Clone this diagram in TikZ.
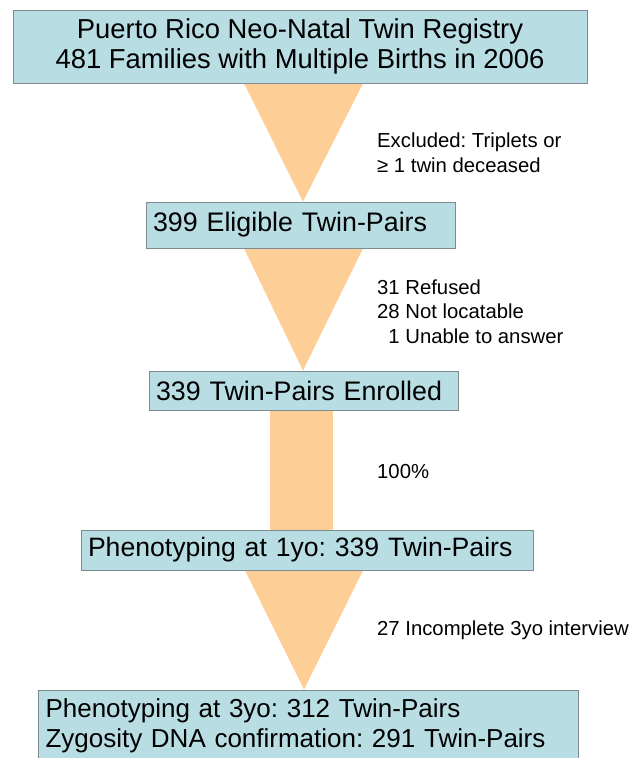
\documentclass[tikz,border=0pt]{standalone}
\usepackage{fontspec}
\setmainfont{Liberation Sans}
\frenchspacing
\usetikzlibrary{backgrounds}
\definecolor{boxfill}{RGB}{184,222,228}
\definecolor{boxline}{RGB}{125,138,143}
\definecolor{funnel}{RGB}{253,206,150}
\begin{document}
\begin{tikzpicture}[x=1pt,y=-1pt,
  box/.style={draw=boxline,line width=0.9pt,fill=boxfill,inner sep=0pt,
    font=\fontsize{26.8}{30}\selectfont},
  lbox/.style={box,align=left,inner xsep=7pt},
  funnelshape/.style={fill=funnel},
  note/.style={anchor=west,align=left,inner sep=0pt,font=\fontsize{20.3}{24.5}\selectfont}]
\useasboundingbox (0,0) rectangle (636,758);
% boxes
\path
  (300,46.5) node[box,align=center,minimum width=574pt,minimum height=73pt,
     font=\fontsize{27.4}{30}\selectfont] (b1)
     {Puerto Rico Neo-Natal Twin Registry\\481 Families with Multiple Births in 2006}
  (300.5,225) node[lbox,text width=295pt,minimum height=46pt] (b2) {399 Eligible Twin-Pairs}
  (303.5,390.5) node[lbox,text width=295pt,minimum height=39pt] (b3) {339 Twin-Pairs Enrolled}
  (307,550) node[lbox,text width=438pt,minimum height=40pt,
     font=\fontsize{26.6}{30}\selectfont] (b4) {Phenotyping at 1yo: 339 Twin-Pairs}
  (308.5,726) node[lbox,text width=526pt,minimum height=72pt,
     font=\fontsize{26}{30.5}\selectfont] (b5)
     {Phenotyping at 3yo: 312 Twin-Pairs\\Zygosity DNA confirmation: 291 Twin-Pairs};
% funnels (behind boxes)
\begin{scope}[on background layer]
\fill[funnelshape] (244,0 |- b1.south) -- (363,0 |- b1.south) -- (303,0 |- b2.north) -- cycle;
\fill[funnelshape] (244,0 |- b2.south) -- (363,0 |- b2.south) -- (303,0 |- b3.north) -- cycle;
\fill[funnelshape] (270,0 |- b3.south) rectangle (333,0 |- b4.north);
\fill[funnelshape] (245,0 |- b4.south) -- (363,0 |- b4.south) -- (304,0 |- b5.north) -- cycle;
\end{scope}
% notes
\node[note] (n1) at (377,152.5) {Excluded: Triplets or\\≥ 1 twin deceased};
\node[note] (n2) at (377,311.5) {31 Refused\\28 Not locatable\\\hphantom{2}1 Unable to answer};
\node[note] (n3) at (377,472) {100\%};
\node[note] (n4) at (377,630) {27 Incomplete 3yo interview};
\end{tikzpicture}
\end{document}
